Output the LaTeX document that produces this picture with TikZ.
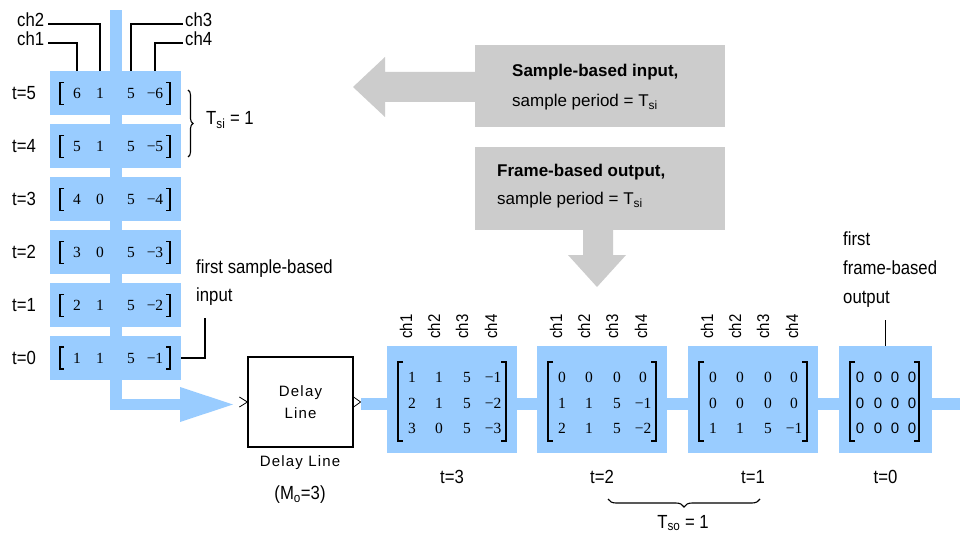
\documentclass[tikz,border=0pt]{standalone}
\usepackage{fontspec}
\setmainfont{Liberation Serif}
\setsansfont{Liberation Sans}
\newfontfamily\dlfont{Liberation Sans}[LetterSpace=8]
\newfontfamily\condfont{Liberation Sans}[FakeStretch=0.88]
\usetikzlibrary{decorations.pathreplacing}
\definecolor{blu}{RGB}{153,204,255}
\definecolor{gry}{RGB}{204,204,204}
\begin{document}
\begin{tikzpicture}[x=1pt,y=-1pt,
  lbl/.style={font=\condfont\fontsize{19}{22}\selectfont, inner sep=0pt},
  vlbl/.style={font=\condfont\fontsize{17}{20}\selectfont, inner sep=0pt, rotate=90},
  num/.style={font=\rmfamily\fontsize{15.5}{18}\selectfont, inner sep=0pt, anchor=base},
  snum/.style={font=\sffamily\fontsize{15}{18}\selectfont, inner sep=0pt, anchor=base},
  rowbox/.style={fill=blu, minimum width=131pt, minimum height=44pt, inner sep=0pt},
  outbox/.style={fill=blu, minimum height=107pt, inner sep=0pt},
  gbox/.style={fill=gry, minimum width=250pt, inner sep=0pt},
  brk/.style={line width=1.2pt},
  wire/.style={line width=1.1pt},
]
\path[use as bounding box, fill=white] (0,0) rectangle (960,537);

% ---- gray annotation arrows
\node[gbox, minimum height=82pt] (g1) at (600,86) {};
\fill[gry] (476,72) -- (385,72) -- (385,57) -- (353,87) -- (385,117) -- (385,102) -- (476,102) -- cycle;
\node[lbl, anchor=west, align=left, font=\sffamily\fontsize{17}{30}\selectfont] (g1t) at (512,87)
  {\textbf{Sample-based input,}\\sample period = T\textsubscript{si}};
\node[gbox, minimum height=83pt] (g2) at (600,188.5) {};
\fill[gry] (583,229) -- (583,255) -- (568,255) -- (597,287) -- (626,255) -- (613,255) -- (613,229) -- cycle;
\node[lbl, anchor=west, align=left, font=\sffamily\fontsize{17}{28}\selectfont] (g2t) at (497,186)
  {\textbf{Frame-based output,}\\sample period = T\textsubscript{si}};

% ---- left sample-based input column
\fill[blu] (110,10) rectangle (122,410);
\fill[blu] (110,399) rectangle (181,410);
\fill[blu] (180,387) -- (233,404.5) -- (180,422) -- cycle;

\foreach \t/\y/\vals in {5/93.5/{6,1,5,−6},4/146.4/{5,1,5,−5},3/199.3/{4,0,5,−4},2/252.2/{3,0,5,−3},1/305.1/{2,1,5,−2},0/358/{1,1,5,−1}}{
  \node[rowbox] (box\t) at (115.5,\y) {};
  \node[lbl] (tl\t) at (24,\y) {t=\t};
  \foreach \v [count=\i] in \vals {
    \pgfmathsetmacro\cx{{77,100,131,155}[\i-1]}
    \node[num] (r\t-\i) at (\cx,\y+5) {\v};
  }
  \draw[brk] (64,\y-11) -- (60,\y-11) -- (60,\y+11) -- (64,\y+11);
  \draw[brk] (166,\y-11) -- (170,\y-11) -- (170,\y+11) -- (166,\y+11);
}

\node[lbl, anchor=mid west] (ch2) at (17,24) {ch2};
\node[lbl, anchor=mid west] (ch1) at (17,43) {ch1};
\node[lbl, anchor=mid west] (ch3) at (185,24) {ch3};
\node[lbl, anchor=mid west] (ch4) at (185,43) {ch4};
\draw[wire] ([xshift=4pt]ch2.mid east) -| (r5-2 |- box5.north);
\draw[wire] ([xshift=4pt]ch1.mid east) -| (r5-1 |- box5.north);
\draw[wire] ([xshift=-2pt]ch3.mid west) -| (r5-3 |- box5.north);
\draw[wire] ([xshift=-2pt]ch4.mid west) -| (r5-4 |- box5.north);

\draw[wire, decorate, decoration={brace, amplitude=5pt}] (188,90) -- (188,157);
\node[lbl, anchor=west] (tsi) at (206,120) {T\textsubscript{si} = 1};

\node[lbl, anchor=west] (fsb) at (196,269) {first sample-based};
\node[lbl, anchor=west] (fsb2) at (196,297) {input};
\coordinate (fsbend) at (205,318);
\draw[wire] (box0.east) -| (fsbend);

% ---- delay line block
\node[draw, line width=1.2pt, minimum width=105pt, minimum height=90pt, inner sep=0pt, align=center,
  font=\dlfont\fontsize{15}{22}\selectfont] (dl) at (300.5,402) {Delay\\Line};
\draw[line width=0.8pt] ([xshift=-8pt,yshift=5pt]dl.west) -- (dl.west) -- ([xshift=-8pt,yshift=-5pt]dl.west);
\draw[line width=0.8pt] ([yshift=5pt]dl.east) -- ([xshift=7pt]dl.east) -- ([yshift=-5pt]dl.east);
\node[font=\dlfont\fontsize{15}{18}\selectfont, inner sep=0pt] (dll) at (300,463) {Delay Line};
\node[lbl] (mo) at (300,495) {(M\textsubscript{o}=3)};

% ---- frame-based output
\fill[blu] (361,398) rectangle (960,410);
\foreach \n/\lx/\ra/\rb/\rc in {3/387/{1,1,5,−1}/{2,1,5,−2}/{3,0,5,−3},2/537/{0,0,0,0}/{1,1,5,−1}/{2,1,5,−2},1/688/{0,0,0,0}/{0,0,0,0}/{1,1,5,−1}}{
  \node[outbox, minimum width=130pt] (ob\n) at (\lx+65,399.5) {};
  \foreach \v [count=\i] in \ra {
    \pgfmathsetmacro\cx{\lx+{25,52,80,106}[\i-1]}
    \node[num] (m\n-1-\i) at (\cx,382) {\v};}
  \foreach \v [count=\i] in \rb {
    \pgfmathsetmacro\cx{\lx+{25,52,80,106}[\i-1]}
    \node[num] (m\n-2-\i) at (\cx,408) {\v};}
  \foreach \v [count=\i] in \rc {
    \pgfmathsetmacro\cx{\lx+{25,52,80,106}[\i-1]}
    \node[num] (m\n-3-\i) at (\cx,433) {\v};}
  \foreach \i in {1,2,3,4} {
    \pgfmathsetmacro\cx{\lx+{19,47,75,104}[\i-1]}
    \node[vlbl] (oc\n-\i) at (\cx,326.5) {ch\i};}
  \draw[brk] (\lx+16,362) -- (\lx+11,362) -- (\lx+11,441) -- (\lx+16,441);
  \draw[brk] (\lx+114,362) -- (\lx+119,362) -- (\lx+119,441) -- (\lx+114,441);
  \node[lbl] (tb\n) at (\lx+65,477) {t=\n};
}
\node[outbox, minimum width=93pt] (ob0) at (885.5,399.5) {};
\foreach \yy [count=\r] in {382,408,433} {
  \foreach \cx [count=\i] in {860,878,895,912} {
    \node[snum] (m0-\r-\i) at (\cx,\yy) {0};}}
\draw[brk] (855,362) -- (850,362) -- (850,441) -- (855,441);
\draw[brk] (914,362) -- (919,362) -- (919,441) -- (914,441);
\node[lbl] (tb0) at (885.5,477) {t=0};

\node[lbl, anchor=west, align=left, font=\condfont\fontsize{19}{29}\selectfont] (ffo) at (843,270) {first\\frame-based\\output};
\draw[wire] (ob0.north) -- ++(0,-26);

\draw[wire, decorate, decoration={brace, amplitude=8pt, mirror}] (608,499) -- (760,499);
\node[lbl] (tso) at (683,523) {T\textsubscript{so} = 1};
\end{tikzpicture}
\end{document}
